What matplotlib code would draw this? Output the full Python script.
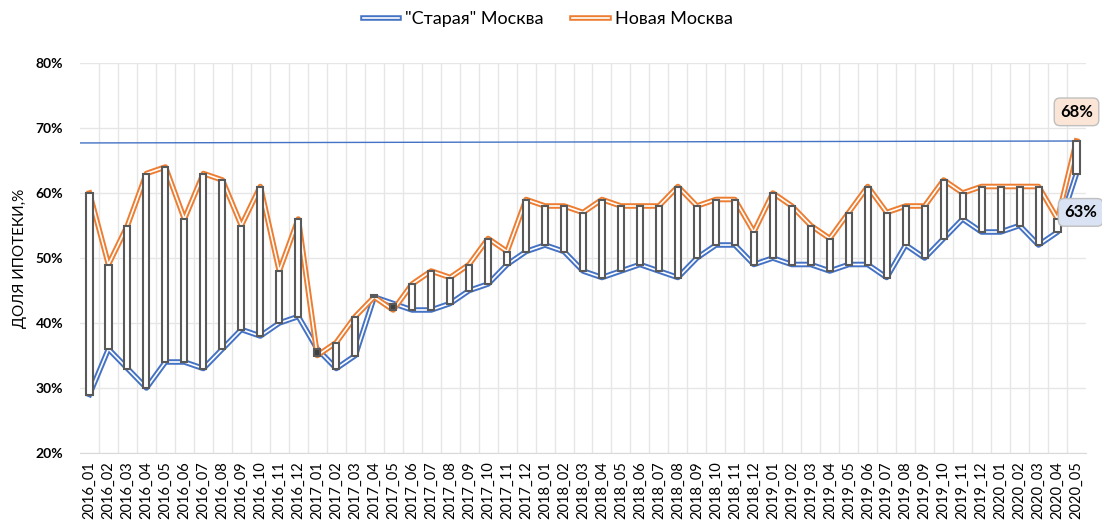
import matplotlib
matplotlib.use("Agg")
import matplotlib.pyplot as plt
import matplotlib.patheffects as pe
import numpy as np

plt.rcParams['font.family'] = ['Lato', 'DejaVu Sans']

# months 2016_01 .. 2020_05
months = ["2016_01", "2016_02", "2016_03", "2016_04", "2016_05", "2016_06", "2016_07", "2016_08",
          "2016_09", "2016_10", "2016_11", "2016_12", "2017_01", "2017_02", "2017_03", "2017_04",
          "2017_05", "2017_06", "2017_07", "2017_08", "2017_09", "2017_10", "2017_11", "2017_12",
          "2018_01", "2018_02", "2018_03", "2018_04", "2018_05", "2018_06", "2018_07", "2018_08",
          "2018_09", "2018_10", "2018_11", "2018_12", "2019_01", "2019_02", "2019_03", "2019_04",
          "2019_05", "2019_06", "2019_07", "2019_08", "2019_09", "2019_10", "2019_11", "2019_12",
          "2020_01", "2020_02", "2020_03", "2020_04", "2020_05"]

# "Старая" Москва
old_msk = [29, 36, 33, 30, 34, 34, 33, 36, 39, 38, 40, 41, 36, 33, 35, 44, 43, 42, 42, 43,
           45, 46, 49, 51, 52, 51, 48, 47, 48, 49, 48, 47, 50, 52, 52, 49, 50, 49, 49, 48,
           49, 49, 47, 52, 50, 53, 56, 54, 54, 55, 52, 54, 63]

# Новая Москва
new_msk = [60, 49, 55, 63, 64, 56, 63, 62, 55, 61, 48, 56, 35, 37, 41, 44, 42, 46, 48, 47,
           49, 53, 51, 59, 58, 58, 57, 59, 58, 58, 58, 61, 58, 59, 59, 54, 60, 58, 55, 53,
           57, 61, 57, 58, 58, 62, 60, 61, 61, 61, 61, 56, 68]

# thin reference line from left edge to last value
ref_x = [-0.5, 52]
ref_y = [67.7, 68.0]

blue = "#4472C4"
orange = "#ED7D31"

x = np.arange(len(months))
old = np.array(old_msk)
new = np.array(new_msk)

fig = plt.figure(figsize=(11.02, 5.22), dpi=100)
ax = fig.add_axes([80/1102, 1-453/522, 1006/1102, 390/522])

ax.plot(ref_x, ref_y, color=blue, lw=1.0, zorder=2)

ax.plot(x, old, color="white", lw=1.2, zorder=3, label='"Старая" Москва',
        path_effects=[pe.Stroke(linewidth=4.0, foreground=blue), pe.Normal()])
ax.plot(x, new, color="white", lw=1.2, zorder=3, label="Новая Москва",
        path_effects=[pe.Stroke(linewidth=4.0, foreground=orange), pe.Normal()])

# up / down bars
lo = np.minimum(old, new)
hi = np.maximum(old, new)
fills = ["white" if n >= o else "#404040" for o, n in zip(old, new)]
h = np.where(hi - lo == 0, 0.25, hi - lo)
ax.bar(x, h, bottom=lo, width=0.32, color=fills, edgecolor="#595959", linewidth=1.5, zorder=4)

ax.set_xlim(-0.5, len(months) - 0.5)
ax.set_ylim(20, 80)
ax.set_yticks(np.arange(20, 81, 10))
ax.set_yticklabels([f"{v}%" for v in range(20, 81, 10)], fontweight="bold", fontsize=10)
ax.set_xticks(x)
ax.set_xticklabels(months, rotation=90, fontsize=10.5)
ax.set_xticks(x[:-1] + 0.5, minor=True)
ax.tick_params(which="both", length=0)
ax.tick_params(axis="y", pad=12)
ax.tick_params(axis="x", pad=6)
ax.grid(axis="y", color="#E6E6E6", lw=1)
ax.grid(axis="x", which="minor", color="#E6E6E6", lw=1)
for s in ["top", "right", "left"]:
    ax.spines[s].set_visible(False)
ax.spines["bottom"].set_color("#D9D9D9")
ax.set_axisbelow(True)

ax.set_ylabel("ДОЛЯ ИПОТЕКИ,%", fontsize=11, labelpad=6)

# value labels for the last month
ax.annotate(f"{new_msk[-1]}%", (x[-1], new_msk[-1]), xytext=(0, 21), textcoords="offset points",
            ha="center", va="center", fontsize=12, fontweight="bold", annotation_clip=False,
            bbox=dict(boxstyle="round,pad=0.35", fc="#FBE5D6", ec="#BFBFBF"), zorder=6)
ax.annotate(f"{old_msk[-1]}%", (x[-1], old_msk[-1]), xytext=(3, -28), textcoords="offset points",
            ha="center", va="center", fontsize=12, fontweight="bold", annotation_clip=False,
            bbox=dict(boxstyle="round,pad=0.35", fc="#DAE3F3", ec="#BFBFBF"), zorder=6)

fig.legend(loc="upper center", bbox_to_anchor=(0.497, 1.01), ncol=2, frameon=False,
           fontsize=13, handlelength=2.0, handletextpad=0.35, columnspacing=1.6)

fig.savefig("out.png", dpi=100)
